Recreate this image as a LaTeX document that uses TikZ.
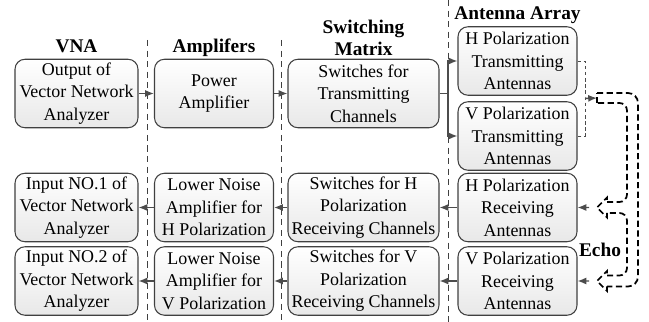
\documentclass[tikz,border=0pt]{standalone}
\usepackage{fontspec}
\setmainfont{Liberation Serif}
\usetikzlibrary{positioning,arrows.meta}

\begin{document}
\begin{tikzpicture}[node distance=1.5cm, >={Latex[length=5pt,width=4pt]},
    box/.style={rectangle, draw=black!75, line width=0.6pt, rounded corners=0.2cm, top color=white, bottom color=black!9, align=center, minimum width=2.38cm, minimum height=1.37cm, inner sep=1pt, font=\fontsize{10.2pt}{12.8pt}\selectfont},
    head/.style={align=center, inner sep=0pt, text depth=0pt, font=\fontsize{11pt}{12.5pt}\selectfont\bfseries},
    link/.style={draw=black!70, line width=0.8pt},
    sep/.style={draw=black!75, line width=0.5pt, dash pattern=on 3.5pt off 2.5pt},
    brace/.style={draw=black!70, line width=0.5pt, dash pattern=on 2pt off 1.5pt},
    echo/.style={draw=black, line width=1pt, dash pattern=on 3.5pt off 2pt}]
      \useasboundingbox (0,0) rectangle (12.98,-6.44);

      % transmitting chain
      \node[box, minimum width=2.46cm] (vnaout) at (1.53,-1.87) {Output of\\Vector Network\\Analyzer};
      \node[box] (pa) [right of=vnaout, xshift=1.25cm] {Power\\Amplifier};
      \node[box, minimum width=3.02cm] (swtx) [right of=pa, xshift=1.49cm] {Switches for\\Transmitting\\Channels};
      \node[box] (htx) [right of=swtx, xshift=1.58cm, yshift=0.65cm] {H Polarization\\Transmitting\\Antennas};
      \node[box] (vtx) [below of=htx] {V Polarization\\Transmitting\\Antennas};

      % receiving chain
      \node[box] (hrx) [below of=vtx, yshift=0.07cm] {H Polarization\\Receiving\\Antennas};
      \node[box] (vrx) [below of=hrx, yshift=0.03cm] {V Polarization\\Receiving\\Antennas};
      \node[box, minimum width=3.02cm] (swh) [left of=hrx, xshift=-1.58cm] {Switches for H\\Polarization\\Receiving Channels};
      \node[box, minimum width=3.02cm] (swv) [left of=vrx, xshift=-1.58cm] {Switches for V\\Polarization\\Receiving Channels};
      \node[box] (lnah) [left of=swh, xshift=-1.49cm] {Lower Noise\\Amplifier for\\H Polarization};
      \node[box] (lnav) [left of=swv, xshift=-1.49cm] {Lower Noise\\Amplifier for\\V Polarization};
      \node[box, minimum width=2.46cm] (vnain1) [left of=lnah, xshift=-1.25cm] {Input NO.1 of\\Vector Network\\Analyzer};
      \node[box, minimum width=2.46cm] (vnain2) [left of=lnav, xshift=-1.25cm] {Input NO.2 of\\Vector Network\\Analyzer};

      % column titles
      \node[head, above=0.12cm of vnaout] (vnahd) {VNA};
      \node[head, above=0.12cm of pa] (amphd) {Amplifers};
      \node[head, above=0.05cm of swtx] (swhd) {Switching\\Matrix};
      \node[head, above=0.12cm of htx] (anthd) {Antenna Array};
      \node[head] (echohd) at (12.0,-5.0) {Echo};

      % separators
      \draw[sep] (2.94,-0.8) -- (2.94,-6.44);
      \draw[sep] (5.62,-0.8) -- (5.62,-6.44);
      \draw[sep] (8.96,0) -- (8.96,-6.44);

      \coordinate (fork) at (8.96,-1.87);
      \coordinate (brk) at (11.70,-1.97);
      \coordinate (tail) at (11.94,-1.96);
      \coordinate (hin) at (11.78,-4.15);
      \coordinate (vin) at (11.78,-5.62);

      \draw[link, ->] (vnaout) -- (pa);
      \draw[link, ->] (pa) -- (swtx);
      \draw[link] (swtx) -- (fork);
      \draw[link, ->] (fork) |- (htx.west);
      \draw[link, ->] (fork) |- (vtx.west);
      \draw[brace] (htx.east) -| (brk) |- (vtx.east);
      \draw[link, ->] (brk) -- (tail);

      \draw[link, ->] (hin) -- (hrx);
      \draw[link, ->] (vin) -- (vrx);
      \draw[link, ->] (hrx) -- (swh);
      \draw[link, ->] (vrx) -- (swv);
      \draw[link, ->] (swh) -- (lnah);
      \draw[link, ->] (swv) -- (lnav);
      \draw[link, ->] (lnah) -- (vnain1);
      \draw[link, ->] (lnav) -- (vnain2);

      % echo arrow
      \draw[echo, rounded corners=0.2cm] (11.94,-1.86) -- (12.76,-1.86) -- (12.76,-5.73) -- (12.14,-5.73);
      \draw[echo] (12.14,-5.73) -- (12.14,-5.82) -- (11.94,-5.62) -- (12.14,-5.42) -- (12.14,-5.51);
      \draw[echo, rounded corners=0.15cm] (12.14,-5.51) -- (12.54,-5.51) -- (12.54,-4.26) -- (12.14,-4.26);
      \draw[echo] (12.14,-4.26) -- (12.14,-4.35) -- (11.94,-4.15) -- (12.14,-3.95) -- (12.14,-4.04);
      \draw[echo, rounded corners=0.15cm] (12.14,-4.04) -- (12.54,-4.04) -- (12.54,-2.06) -- (11.94,-2.06);
      \draw[echo] (11.94,-2.06) -- (11.94,-1.86);
    \end{tikzpicture}
\end{document}
